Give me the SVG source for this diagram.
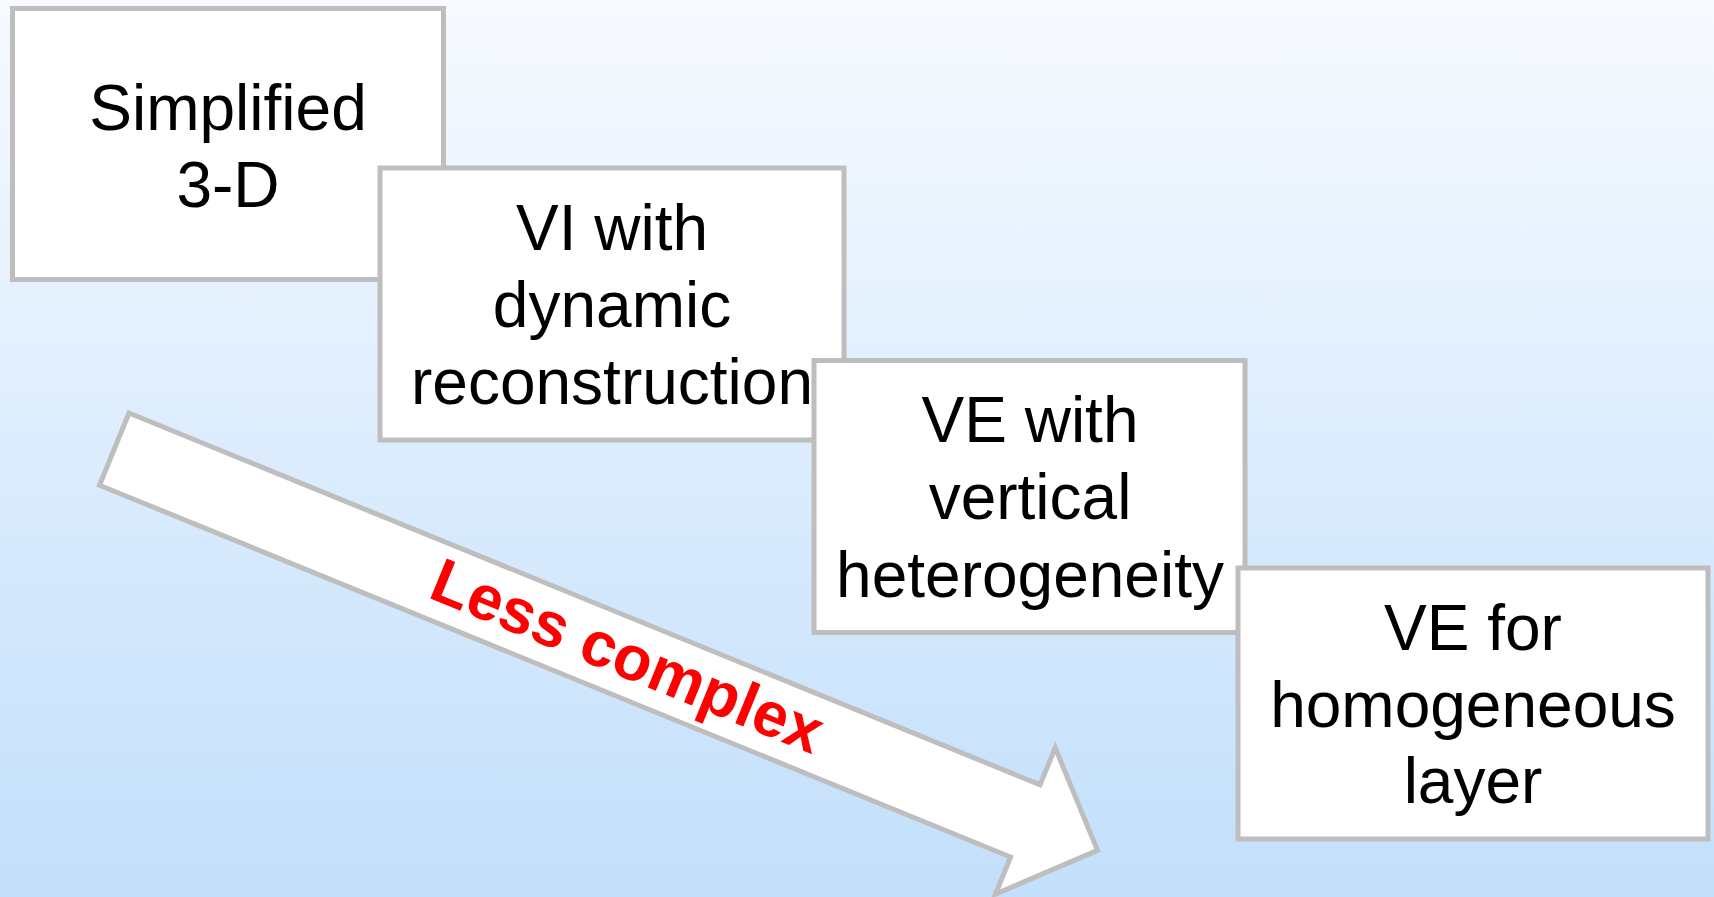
<svg xmlns="http://www.w3.org/2000/svg" width="1714" height="897" viewBox="0 0 1714 897">
<defs>
<linearGradient id="bg" x1="0" y1="0" x2="0" y2="1">
<stop offset="0" stop-color="#f7faff"/>
<stop offset="1" stop-color="#c2dffb"/>
</linearGradient>
<style>
.box{fill:#ffffff;stroke:#bebebe;stroke-width:5}
.lbl{font-family:"Liberation Sans",Arial,sans-serif;font-size:64px;fill:#000000;text-anchor:middle}
.arr{fill:#ffffff;stroke:#bebebe;stroke-width:5;stroke-linejoin:miter}
.red{font-family:"Liberation Sans",Arial,sans-serif;font-size:63px;font-weight:bold;fill:#ff0000}
</style>
</defs>
<rect x="0" y="0" width="1714" height="897" fill="url(#bg)"/>
<g id="arrow-less-complex" transform="translate(129,413) rotate(22.2)">
<polygon class="arr" points="0,0 984,0 984,-40 1062,39 984,118 984,78 0,78"/>
<text class="red" x="345" y="58">Less complex</text>
</g>
<g id="connectors"></g>
<g id="node-simplified-3d">
<rect class="box" x="12.5" y="8.5" width="431" height="271"/>
<text class="lbl" x="228" y="130">Simplified</text>
<text class="lbl" x="228" y="207">3-D</text>
</g>
<g id="node-vi-dynamic">
<rect class="box" x="380" y="168" width="464" height="272"/>
<text class="lbl" x="612" y="250">VI with</text>
<text class="lbl" x="612" y="327">dynamic</text>
<text class="lbl" x="612" y="404">reconstruction</text>
</g>
<g id="node-ve-vertical">
<rect class="box" x="814" y="360.5" width="431" height="272"/>
<text class="lbl" x="1030" y="442">VE with</text>
<text class="lbl" x="1030" y="519">vertical</text>
<text class="lbl" x="1030" y="597">heterogeneity</text>
</g>
<g id="node-ve-homogeneous">
<rect class="box" x="1238" y="568" width="470" height="271"/>
<text class="lbl" x="1473" y="650">VE for</text>
<text class="lbl" x="1473" y="727">homogeneous</text>
<text class="lbl" x="1473" y="803">layer</text>
</g>
</svg>
